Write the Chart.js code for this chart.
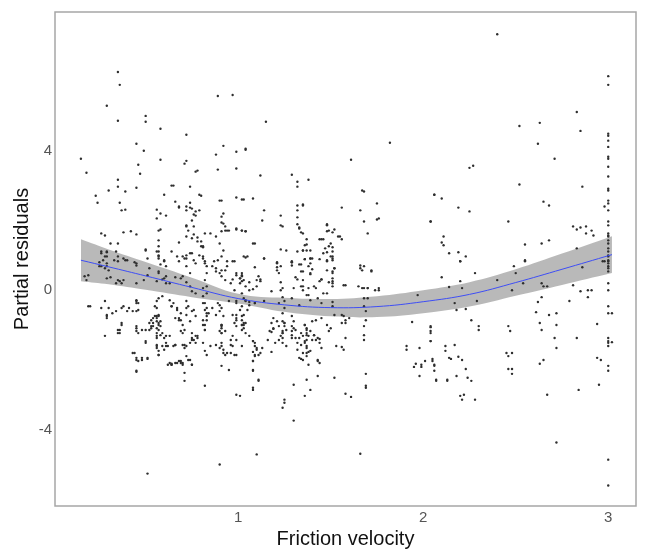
<!DOCTYPE html>
<html lang="en">
<head>
    <meta charset="UTF-8">
    <title>Partial residuals</title>
    <script src="https://cdn.jsdelivr.net/npm/chart.js"></script>
    <style>
        body { margin: 0; background: #fff; }
        #wrap { width: 645px; height: 553px; }
    </style>
</head>
<body>
<div id="wrap"><canvas id="residChart" width="645" height="553"></canvas></div>
<script>
    // axis ticks
    const xTicks = [1, 2, 3];
    const yTicks = [-4, 0, 4];

    // smooth fit and its confidence half-width
    const fitX = [0.15, 0.3, 0.5, 0.75, 1.0, 1.25, 1.5, 1.75, 2.0, 2.25, 2.5, 2.75, 3.02];
    const fitY = [0.86, 0.67, 0.41, 0.08, -0.24, -0.42, -0.5, -0.47, -0.33, -0.12, 0.22, 0.6, 1.02];
    const fitHalf = [0.6, 0.5, 0.4, 0.28, 0.14, 0.2, 0.25, 0.3, 0.33, 0.35, 0.38, 0.45, 0.53];

    // partial residuals, [friction velocity, residual]
    const upperLeft = [
        [0.35,6.26],[0.36,5.89],[0.29,5.29],[0.35,4.86],[0.5,5.0],[0.5,4.83],[0.58,4.63],[0.72,4.46],[0.89,5.57],[0.97,5.6],
        [0.45,4.2],[0.49,4.0],[0.15,3.77],[0.18,3.37],[0.46,3.6],[0.47,3.34],[0.58,3.74],[0.72,3.71],[0.71,3.63],[0.77,3.4],
        [0.78,3.43],[0.92,4.14],[0.88,3.89],[0.89,3.46],[0.99,3.97],[1.04,4.03],[0.99,3.49],[0.35,3.17],[0.35,2.97],[0.3,2.86],
        [0.39,2.83],[0.23,2.71],[0.24,2.51],[0.45,2.94],[0.65,3.0],[0.74,2.97],[0.6,2.74],[0.79,2.74],[0.36,2.51],[0.37,2.29],
        [0.39,2.31],[0.56,2.31],[0.56,2.06],[0.58,2.2],[0.61,2.14],[0.68,2.37],[0.72,2.29],[0.74,2.51],[0.74,2.37],[0.76,2.17],
        [0.77,2.26],[0.75,2.0],[0.9,2.57],[0.99,2.66],[1.02,2.6],[0.91,2.11],[0.92,2.2],[0.91,1.94],[0.85,1.63],[0.91,1.69],
        [0.93,1.71],[0.95,1.71],[0.99,1.77],[1.02,1.71],[1.04,1.69],[0.92,1.91],[0.26,1.63],[0.28,1.57],[0.38,1.66],[0.42,1.69],
        [0.45,1.6],[0.57,1.71],[0.58,1.74],[0.72,1.83],[0.73,1.71],[0.76,1.6],[0.78,1.51],[0.8,1.26],[0.81,1.23],[0.78,1.4],
        [0.68,1.37],[0.31,1.34],[0.35,1.34],[0.57,1.43],[0.57,1.26],[0.57,1.11],[0.57,1.0],[0.5,1.14],[0.72,1.0],[0.74,1.06],
        [0.26,1.11],[0.29,1.09],[0.34,1.11],[0.64,3.0],[0.8,2.71],[0.91,2.57],[0.66,2.54],[0.68,2.4],[0.72,2.4],[0.75,2.34],
        [0.79,2.29],[0.77,2.14],[0.76,1.83],[0.72,1.86],[0.72,1.54],[0.75,1.49],[0.8,1.4],[0.81,1.26],[0.88,1.54],[0.9,1.34],
        [0.92,1.14],[0.93,1.83],[0.94,1.71],[0.82,1.63],[0.5,1.17],[0.56,1.11],[0.64,1.11]
    ];
    const bandLeft = [
        [0.26,1.06],[0.28,0.97],[0.29,1.11],[0.29,0.77],[0.25,0.8],[0.26,0.69],[0.3,0.57],[0.29,0.34],[0.31,0.37],[0.18,0.29],
        [0.19,0.43],[0.37,0.2],[0.38,0.29],[0.4,0.86],[0.35,0.97],[0.35,0.83],[0.44,0.8],[0.45,0.71],[0.52,0.63],[0.51,0.43],
        [0.56,0.26],[0.57,0.49],[0.59,0.31],[0.61,0.2],[0.45,0.2],[0.49,0.29],[0.57,0.91],[0.58,0.74],[0.6,0.86],[0.61,0.69],
        [0.67,0.97],[0.68,0.83],[0.71,0.91],[0.75,1.06],[0.76,0.86],[0.77,0.77],[0.79,1.0],[0.81,0.97],[0.82,0.83],[0.83,0.49],
        [0.82,0.29],[0.83,0.11],[0.86,0.69],[0.88,0.54],[0.9,0.49],[0.91,0.4],[0.93,0.57],[0.94,0.83],[0.17,0.4],[0.25,0.69],
        [0.28,0.63],[0.29,0.69],[0.27,0.86],[0.29,0.97],[0.33,0.86],[0.35,0.29],[0.34,0.2],[0.36,0.26],[0.38,0.91],[0.39,0.86],
        [0.45,0.77],[0.51,0.91],[0.57,0.97],[0.6,0.83],[0.57,0.54],[0.61,0.4],[0.6,0.34],[0.63,0.2],[0.66,0.37],[0.69,0.34],
        [0.7,0.4],[0.72,0.69],[0.74,0.49],[0.72,0.23],[0.74,0.11],[0.75,-0.03],[0.77,-0.09],[0.81,0.06],[0.81,-0.17],[0.83,-0.09],
        [0.83,0.69],[0.88,0.63],[0.91,0.57],[0.94,0.69],[0.93,0.29],[0.96,0.2],[0.98,0.0],[0.99,0.49],[1.01,0.34],[1.02,0.43],
        [1.02,-0.09],[1.04,-0.29],[0.7,0.97],[0.72,0.91],[0.81,0.91],[0.82,0.77],[0.87,0.83],[0.89,0.86],[0.91,0.97],[0.98,0.83]
    ];
    const lowerLeft = [
        [0.19,-0.46],[0.2,-0.46],[0.26,-0.51],[0.28,-0.31],[0.29,-0.74],[0.29,-0.71],[0.32,-0.66],[0.34,-0.6],[0.35,-1.14],[0.36,-1.23],
        [0.37,-0.94],[0.28,-1.31],[0.38,-0.46],[0.4,-0.6],[0.43,-0.6],[0.45,-0.29],[0.45,-0.37],[0.46,-0.57],[0.45,-1.09],[0.45,-1.17],
        [0.46,-1.23],[0.5,-1.46],[0.5,-1.14],[0.52,-0.94],[0.53,-1.09],[0.54,-1.03],[0.54,-0.8],[0.55,-0.46],[0.56,-0.74],[0.56,-0.8],
        [0.57,-0.71],[0.57,-0.94],[0.58,-0.89],[0.56,-1.09],[0.57,-1.14],[0.59,-1.23],[0.56,-1.31],[0.6,-1.37],[0.56,-1.6],[0.57,-1.74],
        [0.6,-1.71],[0.57,-1.86],[0.61,-1.51],[0.62,-1.6],[0.63,-0.29],[0.64,-0.46],[0.65,-0.37],[0.67,-0.57],[0.66,-0.8],[0.68,-0.86],
        [0.69,-0.66],[0.7,-1.0],[0.71,-1.14],[0.72,-0.31],[0.73,-0.46],[0.72,-0.71],[0.74,-0.89],[0.72,-1.6],[0.75,-1.37],[0.75,-1.23],
        [0.76,-1.43],[0.77,-1.51],[0.78,-1.31],[0.7,-1.23],[0.69,-1.17],[0.66,-1.57],[0.71,-1.57],[0.7,-2.09],[0.74,-2.0],[0.75,-2.14],
        [0.63,-2.09],[0.64,-2.14],[0.67,-2.09],[0.69,-2.03],[0.71,-2.37],[0.71,-2.6],[0.81,-0.37],[0.82,-0.57],[0.83,-0.74],[0.81,-0.86],
        [0.82,-1.0],[0.82,-1.14],[0.84,-0.66],[0.86,-0.51],[0.88,-0.71],[0.9,-0.6],[0.91,-1.0],[0.91,-1.09],[0.9,-1.17],[0.91,-1.23],
        [0.91,-1.51],[0.92,-1.71],[0.94,-1.8],[0.96,-1.43],[0.97,-1.6],[0.96,-1.8],[0.98,-0.94],[0.99,-0.71],[0.99,-0.8],[1.01,-0.57],
        [1.02,-0.86],[1.02,-1.0],[1.03,-0.71],[1.04,-0.94],[1.05,-0.57],[0.89,-0.37],[0.95,-0.31],[0.99,-0.31],[0.91,-2.17],[0.95,-2.29],
        [0.82,-2.74],[0.99,-3.0],[1.01,-3.03],[0.44,-1.8],[0.45,-2.0],[0.48,-2.0],[0.51,-1.97],[0.45,-2.31],[0.51,-5.26],[0.9,-5.0],
        [0.29,-0.8],[0.3,-0.51],[0.37,-0.51],[0.41,-0.51],[0.45,-0.6],[0.45,-0.31],[0.46,-0.37],[0.45,-1.03],[0.48,-1.14],[0.52,-1.14],
        [0.53,-1.03],[0.54,-0.94],[0.53,-0.86],[0.55,-0.74],[0.57,-0.74],[0.56,-0.89],[0.57,-1.0],[0.58,-1.03],[0.56,-0.51],[0.56,-0.31],
        [0.57,-0.23],[0.59,-0.17],[0.56,-1.23],[0.58,-1.29],[0.56,-1.37],[0.61,-1.31],[0.63,-1.31],[0.35,-1.23],[0.37,-1.0],[0.36,-1.14],
        [0.43,-1.8],[0.45,-1.94],[0.46,-2.03],[0.48,-1.94],[0.51,-1.94],[0.45,-2.34],[0.5,-1.51],[0.56,-1.57],[0.56,-1.66],[0.57,-1.86],
        [0.59,-1.6],[0.61,-1.6],[0.65,-1.6],[0.66,-1.57],[0.7,-1.57],[0.71,-1.66],[0.74,-1.51],[0.75,-1.43],[0.77,-1.31],[0.78,-1.37],
        [0.81,-1.51],[0.82,-1.74],[0.83,-1.86],[0.85,-1.6],[0.88,-1.57],[0.9,-1.66],[0.91,-1.6],[0.92,-1.8],[0.93,-1.86],[0.62,-2.14],
        [0.64,-2.14],[0.64,-2.11],[0.66,-2.09],[0.68,-2.03],[0.69,-2.09],[0.7,-2.14],[0.72,-1.89],[0.73,-2.0],[0.75,-2.14],[0.64,-0.46],
        [0.67,-0.51],[0.68,-0.8],[0.69,-0.86],[0.72,-0.51],[0.75,-0.6],[0.76,-0.57],[0.77,-0.74],[0.82,-0.37],[0.83,-0.51],[0.83,-0.66],
        [0.83,-0.86],[0.81,-1.0],[0.82,-1.14],[0.9,-0.43],[0.91,-0.51],[0.92,-0.74],[0.91,-1.0],[0.91,-1.03],[0.93,-1.17],[0.91,-1.23]
    ];
    const middle = [
        [1.15,4.83],[1.82,4.23],[1.04,4.06],[1.61,3.74],[1.12,3.29],[1.29,3.31],[1.32,3.11],[1.32,2.97],[1.38,3.17],[1.03,2.6],
        [1.08,2.63],[1.68,2.83],[1.75,2.49],[2.06,2.74],[1.14,2.29],[1.13,2.0],[1.23,2.14],[1.35,2.46],[1.32,2.29],[1.32,2.09],
        [1.56,2.37],[1.66,2.29],[1.68,1.97],[1.75,2.03],[1.76,2.06],[2.04,1.97],[1.23,1.86],[1.32,1.89],[1.33,1.77],[1.34,1.66],
        [1.02,1.71],[1.04,1.69],[1.48,1.89],[1.49,1.71],[1.51,1.66],[1.52,1.74],[1.54,1.54],[1.56,1.46],[1.7,1.63],[1.44,1.46],
        [1.45,1.46],[1.46,1.46],[1.37,1.46],[1.37,1.31],[1.5,1.34],[1.51,1.23],[1.51,1.11],[1.51,0.97],[1.47,1.2],[1.46,1.06],
        [1.08,1.34],[1.09,1.34],[1.23,1.17],[1.26,1.14],[1.32,1.11],[1.35,1.14],[1.39,1.14],[1.03,0.97],[1.05,0.97],[1.14,0.91],
        [1.29,0.83],[1.36,0.89],[1.4,0.91],[1.48,0.83],[1.67,2.86],[1.24,1.83],[1.32,2.43],[1.35,2.43],[1.33,1.8],[1.35,1.63],
        [1.48,1.86],[1.48,1.69],[1.55,1.54],[0.99,1.74],[1.36,1.29],[1.35,1.14],[1.37,1.14],[1.49,1.26],[1.48,1.09],[1.5,0.97],
        [1.51,0.86],[1.52,0.63],[1.51,0.49],[1.51,0.34],[1.51,0.2],[1.04,0.94],[0.97,0.83],[1.21,0.8],[1.23,0.69],[1.21,0.57],
        [1.22,0.49],[1.29,0.8],[1.29,0.71],[1.33,0.74],[1.34,0.54],[1.39,0.91],[1.39,0.77],[1.38,0.69],[1.39,0.49],[1.35,0.29],
        [1.34,0.11],[1.38,0.06],[1.41,0.11],[1.44,0.26],[1.45,0.31],[1.48,0.57],[1.49,0.23],[1.51,0.11],[1.57,0.14],[1.31,0.37],
        [1.24,0.06],[1.12,0.26],[1.1,0.29],[1.06,0.0],[1.02,0.49],[1.03,0.29],[1.02,0.4],[0.99,0.43],[0.97,0.31],[1.01,0.2],
        [1.66,0.71],[1.67,0.57],[1.72,0.54],[1.65,0.11],[1.67,0.06],[1.7,0.06],[1.74,0.0],[1.76,0.06],
        [1.14,0.91],[1.09,0.66],[1.21,0.77],[1.21,0.66],[1.29,0.8],[1.34,0.74],[1.36,0.89],[1.39,0.91],[1.39,0.46],[1.4,0.6],
        [1.35,0.54],[1.32,0.31],[1.44,0.89],[1.48,0.86],[1.51,0.91],[1.52,0.63],[1.51,0.54],[1.51,0.26],[1.45,0.31],[1.58,0.14],
        [1.66,0.63],[1.68,0.69],[1.72,0.57],[1.68,0.06],[1.7,0.06],[1.76,0.0],[1.68,-0.23],[1.7,-0.23],[1.23,0.23],[1.23,0.0],
        [1.24,-0.2],[1.25,-0.31],[1.22,-0.37],[1.3,0.06],[1.35,0.11],[1.35,0.0],[1.37,-0.14],[1.38,-0.14],[1.39,-0.29],[1.33,-0.43],
        [1.29,-0.23],[1.42,0.06],[1.43,-0.23],[1.45,-0.37],[1.46,-0.09],[1.48,-0.09],[1.51,-0.34],[1.03,-0.23],[1.06,-0.34],[1.09,-0.37],
        [1.14,-0.31],[1.01,0.34],[1.02,0.26],[1.04,0.11],[1.06,0.23],[1.08,0.03],[1.11,0.4],[1.12,0.31],[1.1,0.11],[1.18,-0.03],
        [1.56,-0.71],[1.57,-0.74],[1.58,-0.86],[1.56,-0.94],[1.58,-0.94],[1.6,-0.8],[1.68,-0.46],[1.69,-0.6],[1.69,-0.86],[1.68,-1.03],
        [1.68,-1.29],[1.68,-1.43],[1.25,-0.51],[1.24,-0.66],[1.24,-0.89],[1.25,-0.94],[1.25,-1.03],[1.24,-1.17],[1.24,-1.23],[1.24,-1.37],
        [1.22,-1.43],[1.18,-0.94],[1.19,-1.09],[1.18,-1.2],[1.2,-1.51],[1.18,-1.77],[1.29,-0.74],[1.3,-0.89],[1.29,-1.03],[1.31,-1.14],
        [1.33,-1.37],[1.34,-1.57],[1.32,-1.71],[1.29,-1.37],[1.36,-1.0],[1.37,-1.09],[1.37,-1.23],[1.36,-1.46],[1.37,-1.43],[1.37,-1.6],
        [1.38,-1.31],[1.39,-1.17],[1.41,-1.29],[1.42,-1.43],[1.4,-0.89],[1.34,-1.97],[1.35,-2.0],[1.37,-1.8],[1.38,-1.77],[1.43,-2.0],
        [1.43,-2.03],[1.44,-1.4],[1.45,-1.66],[1.42,-0.86],[1.45,-0.8],[1.48,-1.0],[1.49,-1.17],[1.5,-1.09],[1.53,-1.6],[1.56,-1.63],
        [1.57,-1.71],[1.51,-0.46],[1.52,-0.71],[1.03,-0.94],[1.03,-1.09],[1.08,-1.46],[1.09,-1.51],[1.08,-1.77],[1.1,-1.71],[1.09,-1.86],
        [1.08,-2.03],[1.08,-2.29],[1.08,-2.8],[1.13,-1.66],[1.16,-1.43],[1.17,-1.17],[1.19,-1.11],[1.11,-2.57],[1.02,-1.14],[1.02,-1.6],
        [1.25,-3.14],[1.25,-3.23],[1.24,-3.37],[1.3,-3.74],[1.3,-2.71],[1.36,-3.03],[1.37,-2.57],[1.39,-2.86],[1.43,-2.46],[1.44,-2.09],
        [1.52,-2.51],[1.58,-2.97],[1.61,-3.06],[1.69,-2.4],[1.69,-2.74],[1.69,-2.8],[1.58,-1.37],[1.1,-4.71],[1.66,-4.69],
        [0.99,-0.37],[1.02,-0.46],[1.04,-0.31],[1.06,-0.43],[1.09,-0.37],[0.97,-0.71],[0.99,-0.86],[1.02,-0.74],[1.02,-1.0],[0.99,-1.03],
        [0.97,-1.31],[0.99,-1.43],[0.96,-1.57],[0.98,-1.86],[0.99,-1.86],[1.03,-1.0],[1.04,-1.23],[1.06,-1.31],[1.08,-1.46],[1.09,-1.6],
        [1.1,-1.66],[1.11,-1.86],[1.09,-1.89],[1.12,-1.8],[1.08,-2.03],[1.08,-2.31],[1.11,-2.6],[1.08,-2.86],[1.19,-0.8],[1.21,-0.89],
        [1.22,-1.03],[1.25,-0.94],[1.26,-1.14],[1.24,-1.23],[1.23,-1.31],[1.24,-1.51],[1.26,-1.6],[1.29,-1.17],[1.29,-1.29],[1.3,-1.09],
        [1.31,-1.37],[1.32,-1.51],[1.34,-1.23],[1.35,-1.31],[1.36,-1.0],[1.37,-1.14],[1.37,-1.29],[1.36,-1.51],[1.37,-1.66],[1.35,-1.8],
        [1.33,-1.94],[1.37,-1.89],[1.39,-1.74],[1.4,-1.43],[1.41,-1.29],[1.43,-1.37],[1.44,-1.51],[1.38,-2.14]
    ];
    const right = [
        [1.94,-0.91],[1.91,-1.6],[1.91,-1.71],[1.98,-1.66],[1.96,-2.11],[1.95,-2.2],[1.99,-2.14],[1.99,-2.2],[2.01,-2.03],[1.98,-2.46],
        [2.04,-1.06],[2.04,-1.23],[2.04,-1.46],[2.05,-2.03],[2.06,-2.17],[2.07,-2.57],[1.97,-0.14],
        [2.4,7.34],[2.83,5.11],[2.85,4.57],[2.52,4.71],[2.63,4.8],[2.62,4.2],[2.71,3.77],[2.25,3.51],[2.27,3.57],
        [2.52,3.03],[2.86,2.97],[2.06,2.74],[2.1,2.63],[2.65,2.54],[2.68,2.43],[2.19,2.37],[2.25,2.26],[2.46,1.97],[2.04,1.97],
        [2.81,1.83],[2.83,1.74],[2.85,1.8],[2.88,1.83],[2.88,1.63],[2.91,1.71],[2.92,1.57],[2.11,1.54],[2.1,1.37],[2.11,1.29],
        [2.14,1.06],[2.19,1.09],[2.23,0.97],[2.2,0.83],[2.55,1.31],[2.55,0.86],[2.64,1.34],[2.68,1.43],[2.83,1.2],[2.98,2.4],
        [2.98,0.83],[2.97,0.83],[2.95,-2.71],[2.94,-1.94],[2.96,-2.0],[2.94,-0.97],[2.89,0.0],[2.91,0.0],[2.89,-0.2],[2.85,-0.03],
        [2.86,0.66],[2.81,0.14],[2.79,-0.31],[2.83,-1.37],[2.84,-2.86],[2.72,-4.37],[2.67,-3.0],[2.72,-0.66],[2.72,-1.0],[2.71,-1.37],
        [2.72,-1.66],[2.68,-0.71],[2.63,-0.94],[2.64,-1.14],[2.65,-2.0],[2.63,-2.11],[2.61,-0.63],[2.62,-0.34],[2.64,-0.2],[2.64,0.2],
        [2.65,0.11],[2.67,0.11],[2.49,0.69],[2.5,0.49],[2.48,0.0],[2.54,0.2],[2.55,0.83],[2.46,-1.03],[2.47,-1.17],[2.45,-1.8],
        [2.48,-1.8],[2.46,-1.89],[2.46,-2.26],[2.48,-2.26],[2.48,-2.4],[2.4,0.29],[2.3,-1.03],[2.3,-1.14],[2.26,-0.86],[2.28,0.49],
        [2.29,-0.31],[2.23,-0.54],[2.18,-0.57],[2.2,0.26],[2.21,0.06],[2.2,0.83],[2.14,0.09],[2.17,-0.37],[2.1,0.37],[2.17,-1.57],
        [2.12,-1.6],[2.12,-1.74],[2.14,-1.94],[2.15,-1.97],[2.19,-1.91],[2.21,-2.0],[2.23,-2.26],[2.24,-2.51],[2.26,-2.6],[2.18,-2.46],
        [2.13,-2.57],[2.13,-2.6],[2.07,-2.6],[2.06,-2.31],[2.06,-2.14],[2.05,-1.97],[2.04,-1.17],[2.04,-1.03],[2.2,-3.03],[2.22,-3.0],
        [2.21,-3.14],[2.28,-3.14],[2.04,-1.46]
    ];
    const edgeColumn = [
        [3.0,6.14],[3.0,5.89],[3.0,4.49],[3.0,4.43],[3.0,4.29],[3.0,4.11],[3.0,3.83],[3.0,3.77],[3.0,3.54],[3.0,3.26],
        [3.0,2.91],[3.0,2.86],[3.0,2.57],[3.0,2.49],[3.0,2.29],[3.0,1.97],[3.0,1.86],[3.0,1.63],[3.0,1.57],[3.0,1.54],
        [3.0,1.43],[3.0,1.34],[3.0,1.2],[3.0,1.11],[3.0,0.97],[3.0,0.83],[3.0,1.0],[3.0,0.86],[3.0,0.77],[3.0,0.69],
        [3.0,0.63],[3.0,0.54],[3.0,0.2],[3.0,0.0],[3.0,-0.46],[3.0,-0.66],[3.0,-1.37],[3.0,-1.46],[3.0,-1.51],[3.0,-1.6],
        [3.0,-2.17],[3.0,-2.31],[3.02,-0.66],[3.02,-1.49],[3.0,-4.86],[3.0,-5.6]
    ];

    const residuals = upperLeft.concat(bandLeft, lowerLeft, middle, right, edgeColumn)
        .map(p => ({ x: p[0], y: p[1] }));
    const fitLine = fitX.map((x, i) => ({ x: x, y: fitY[i] }));
    const bandLow = fitX.map((x, i) => ({ x: x, y: fitY[i] - fitHalf[i] }));
    const bandHigh = fitX.map((x, i) => ({ x: x, y: fitY[i] + fitHalf[i] }));

    // grey frame round the panel
    const panelBorder = {
        id: 'panelBorder',
        afterDraw(chart) {
            const a = chart.chartArea;
            const ctx = chart.ctx;
            ctx.save();
            ctx.strokeStyle = '#a6a6a6';
            ctx.lineWidth = 1.5;
            ctx.strokeRect(a.left, a.top, a.right - a.left, a.bottom - a.top);
            ctx.restore();
        }
    };

    const fontFamily = '"Liberation Sans", Arial, sans-serif';
    const ctx = document.getElementById('residChart').getContext('2d');
    new Chart(ctx, {
        type: 'scatter',
        data: {
            datasets: [
                {
                    data: bandLow,
                    showLine: true,
                    borderWidth: 0,
                    pointRadius: 0,
                    tension: 0.4,
                    fill: false,
                    order: 3
                },
                {
                    data: bandHigh,
                    showLine: true,
                    borderWidth: 0,
                    pointRadius: 0,
                    tension: 0.4,
                    backgroundColor: 'rgba(128, 128, 128, 0.55)',
                    fill: '-1',
                    order: 2
                },
                {
                    data: residuals,
                    pointRadius: 1.2,
                    pointBorderWidth: 0,
                    backgroundColor: '#2e2e2e',
                    order: 1
                },
                {
                    data: fitLine,
                    showLine: true,
                    borderColor: '#3d4df5',
                    borderWidth: 1,
                    pointRadius: 0,
                    tension: 0.4,
                    fill: false,
                    order: 0
                }
            ]
        },
        options: {
            responsive: false,
            animation: false,
            layout: { padding: { top: 7, right: 9, left: 0, bottom: 0 } },
            plugins: {
                legend: { display: false },
                tooltip: { enabled: false }
            },
            scales: {
                x: {
                    type: 'linear',
                    min: 0.01,
                    max: 3.15,
                    grid: { display: false, drawTicks: false },
                    border: { display: false },
                    afterBuildTicks: s => { s.ticks = xTicks.map(v => ({ value: v })); },
                    afterFit: s => { s.height = 47; },
                    ticks: {
                        padding: 3,
                        color: '#555',
                        font: { family: fontFamily, size: 15 }
                    },
                    title: {
                        display: true,
                        text: 'Friction velocity',
                        color: '#111',
                        font: { family: fontFamily, size: 20 },
                        padding: { top: 0, bottom: 2 }
                    }
                },
                y: {
                    type: 'linear',
                    min: -6.19,
                    max: 7.98,
                    grid: { display: false, drawTicks: false },
                    border: { display: false },
                    afterBuildTicks: s => { s.ticks = yTicks.map(v => ({ value: v })); },
                    afterFit: s => { s.width = 55; },
                    ticks: {
                        padding: 3,
                        color: '#555',
                        font: { family: fontFamily, size: 15 }
                    },
                    title: {
                        display: true,
                        text: 'Partial residuals',
                        color: '#111',
                        font: { family: fontFamily, size: 20 },
                        padding: { top: 10, bottom: 0 }
                    }
                }
            }
        },
        plugins: [panelBorder]
    });
</script>
</body>
</html>
